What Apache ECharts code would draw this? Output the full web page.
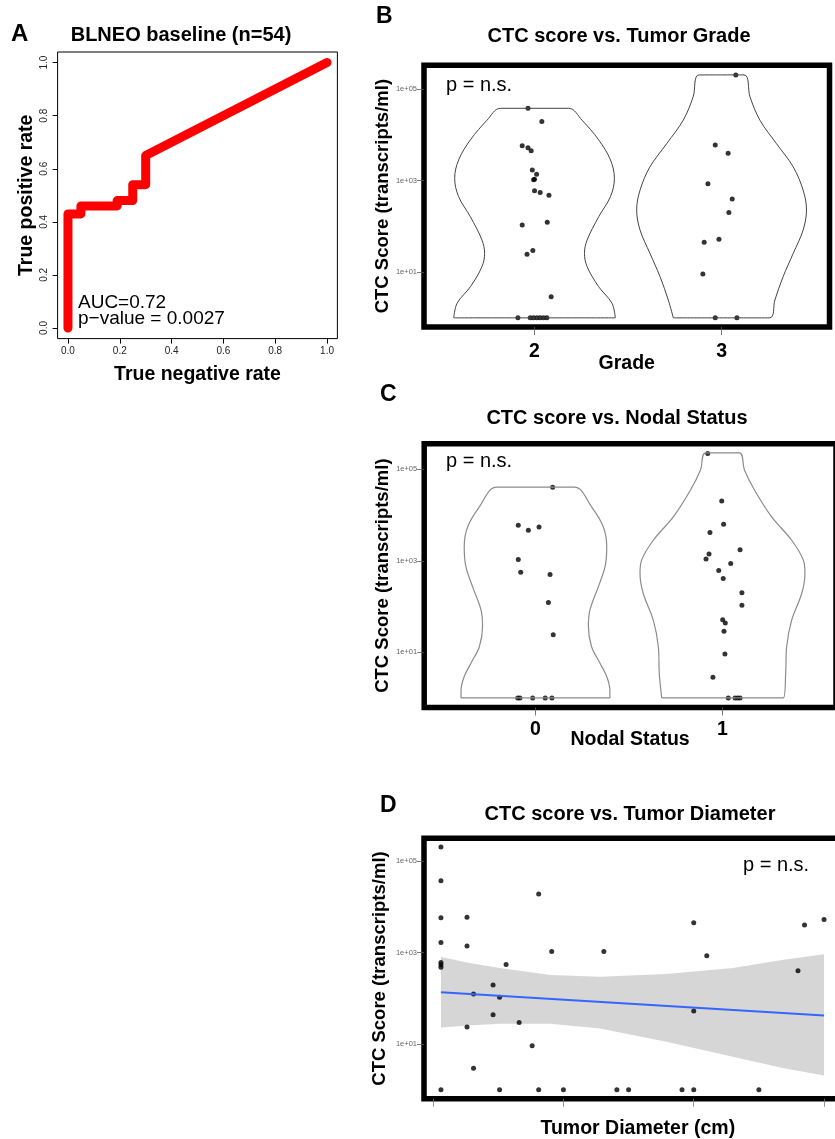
<!DOCTYPE html>
<html>
<head>
<meta charset="utf-8">
<script src="https://cdn.jsdelivr.net/npm/echarts@6/dist/echarts.min.js"></script>
<style>
  html, body { margin: 0; padding: 0; background: #fff; }
  #chart { width: 835px; height: 1139px; }
</style>
</head>
<body>
<div id="chart"></div>
<script>
// ---- panel A: ROC curve ----
const rocFpr = [0, 0, 0.05, 0.05, 0.19, 0.19, 0.25, 0.25, 0.30, 0.30, 1.0];
const rocTpr = [0, 0.43, 0.43, 0.46, 0.46, 0.48, 0.48, 0.54, 0.54, 0.65, 1.0];
const rocTicks = [0, 0.2, 0.4, 0.6, 0.8, 1.0];

// CTC scores are read as log10 exponents (zero scores sit at 1e+00)
const logTicks = [1, 3, 5];

// ---- panel B: grade ----
const gradeLabels = ['2', '3'];
const grade2Log = [4.58, 4.29, 3.76, 3.72, 3.65, 3.23, 3.14, 3.03, 3.02, 2.78, 2.74, 2.68, 2.03, 2.09, 1.47, 1.39, 0.46, 0, 0, 0, 0, 0, 0, 0];
const grade2Jit = [-0.035, 0.039, -0.066, -0.035, -0.018, -0.012, 0.011, 0, -0.005, 0, 0.03, 0.077, -0.066, 0.068, -0.009, -0.04, 0.089, -0.089, -0.023, -0.005, 0.013, 0.03, 0.048, 0.066];
const grade3Log = [5.31, 3.78, 3.60, 2.93, 2.60, 2.30, 1.72, 1.65, 0.96, 0, 0];
const grade3Jit = [0.076, -0.034, 0.035, -0.073, 0.057, 0.039, -0.014, -0.093, -0.10, -0.034, 0.082];
// violin outlines: log level and half width (category units)
const grade2VioY = [0, 0.32, 0.68, 1.12, 1.41, 1.70, 2.21, 2.65, 3.05, 3.45, 3.89, 4.32, 4.58];
const grade2VioW = [0.432, 0.414, 0.343, 0.281, 0.267, 0.281, 0.343, 0.406, 0.427, 0.406, 0.343, 0.254, 0.183];
const grade3VioY = [0, 0.39, 0.90, 1.41, 1.92, 2.36, 2.79, 3.30, 3.81, 4.32, 4.83, 5.31];
const grade3VioW = [0.258, 0.285, 0.329, 0.383, 0.436, 0.454, 0.436, 0.383, 0.293, 0.205, 0.152, 0.120];

// ---- panel C: nodal status ----
const nodalLabels = ['0', '1'];
const node0Log = [4.61, 3.78, 3.67, 3.74, 3.03, 2.75, 2.70, 2.09, 1.38, 0, 0, 0, 0, 0];
const node0Jit = [0.092, -0.092, -0.038, 0.019, -0.092, -0.079, 0.078, 0.069, 0.095, -0.095, -0.083, -0.015, 0.052, 0.088];
const node1Log = [5.35, 4.31, 3.80, 3.62, 3.24, 3.15, 3.04, 2.94, 2.79, 2.61, 2.30, 2.03, 1.71, 1.64, 1.46, 0.96, 0.45, 0, 0, 0, 0];
const node1Jit = [-0.079, -0.004, 0.006, -0.067, 0.094, -0.072, -0.088, 0.044, -0.02, 0.004, 0.104, 0.104, 0.001, 0.015, 0.008, 0.013, -0.051, 0.031, 0.067, 0.081, 0.094];
const node0VioY = [0, 0.17, 0.47, 0.76, 1.12, 1.56, 1.92, 2.43, 2.87, 3.31, 3.74, 4.18, 4.61];
const node0VioW = [0.398, 0.398, 0.381, 0.345, 0.30, 0.283, 0.291, 0.336, 0.372, 0.381, 0.363, 0.30, 0.208];
const node1VioY = [0, 0.54, 1.12, 1.70, 2.29, 2.73, 3.02, 3.45, 3.96, 4.55, 4.98, 5.36];
const node1VioW = [0.325, 0.338, 0.343, 0.37, 0.424, 0.441, 0.432, 0.37, 0.263, 0.171, 0.118, 0.09];

// ---- panel D: tumor diameter ----
const diamX = [1.06, 1.06, 1.06, 1.06, 1.06, 1.06, 1.06, 1.06, 1.26, 1.26, 1.26, 1.31, 1.31, 1.46, 1.46, 1.51, 1.51, 1.56, 1.66, 1.76, 1.81, 1.81, 1.91, 2.0, 2.31, 2.41, 2.50, 2.91, 3.0, 3.0, 3.0, 3.10, 3.50, 3.80, 3.85, 4.0];
const diamLog = [5.31, 4.57, 3.76, 3.22, 2.78, 2.73, 2.68, 0, 3.77, 3.14, 1.37, 2.09, 0.47, 2.29, 1.64, 2.02, 0, 2.74, 1.47, 0.96, 4.28, 0, 3.02, 0, 3.02, 0, 0, 0, 3.65, 1.72, 0, 2.93, 0, 2.60, 3.60, 3.72];
const diamTicks = [1, 2, 3, 4];
const bandX = [1.06, 1.30, 1.51, 1.90, 2.28, 2.79, 3.30, 3.69, 4.0];
const bandUpper = [2.90, 2.76, 2.66, 2.51, 2.47, 2.53, 2.66, 2.84, 2.96];
const bandLower = [1.36, 1.41, 1.44, 1.44, 1.34, 1.05, 0.72, 0.47, 0.31];
const fitX = [1.06, 4.0];
const fitY = [2.13, 1.62];

const FONT = '"Liberation Sans", Arial, Helvetica, sans-serif';

function violinPath(center, levels, widths) {
  const left = levels.map((y, i) => [center - widths[i], y]);
  const right = levels.map((y, i) => [center + widths[i], y]).reverse();
  return left.concat(right, [left[0]]);
}

function jittered(center, logs, jit) {
  return logs.map((y, i) => [center + jit[i], y]);
}

const nameStyle = { fontSize: 19.5, fontWeight: 'bold', color: '#000', fontFamily: FONT };

function logAxis(gridIndex, min, max, gap) {
  return {
    gridIndex, type: 'value', min, max,
    axisLine: { show: false, onZero: false },
    splitLine: { show: false },
    axisTick: { customValues: logTicks, length: 7, lineStyle: { color: '#555', width: 0.8 } },
    axisLabel: { customValues: logTicks, formatter: v => '1e+0' + v, fontSize: 7.5, color: '#666', margin: 7, fontFamily: FONT },
    name: 'CTC Score (transcripts/ml)', nameLocation: 'middle', nameGap: gap, nameMoveOverlap: false,
    nameTextStyle: Object.assign({}, nameStyle, { fontSize: 18.5 })
  };
}

function catAxis(gridIndex, min, max, labels, name, margin, gap) {
  return {
    gridIndex, type: 'value', min, max,
    axisLine: { show: false, onZero: false },
    splitLine: { show: false },
    axisTick: { customValues: [1, 2], length: 8, lineStyle: { color: '#555', width: 0.8 } },
    axisLabel: { customValues: [1, 2], formatter: v => labels[Math.round(v) - 1], fontSize: 19.5, fontWeight: 'bold', color: '#000', margin, fontFamily: FONT },
    name, nameLocation: 'middle', nameGap: gap, nameMoveOverlap: false,
    nameTextStyle: nameStyle
  };
}

const panelGrid = { show: true, borderColor: '#000', borderWidth: 5.5, outerBoundsMode: 'none', containLabel: false };

function txt(text, x, y, size, weight, align) {
  return {
    type: 'text', x, y, silent: true,
    style: { text, fontSize: size, fontWeight: weight, fontFamily: FONT, fill: '#000', align: align || 'left', verticalAlign: 'middle' }
  };
}

const chart = echarts.init(document.getElementById('chart'));
chart.setOption({
  animation: false,
  backgroundColor: '#fff',
  grid: [
    { left: 57.6, top: 52, width: 279.8, height: 286.6, show: true, borderColor: '#000', borderWidth: 1, outerBoundsMode: 'none', containLabel: false },
    Object.assign({ left: 424, top: 65.3, width: 405.5, height: 261.7 }, panelGrid),
    Object.assign({ left: 424.2, top: 443.8, width: 411.8, height: 263.7 }, panelGrid),
    Object.assign({ left: 424, top: 838.2, width: 419.6, height: 260.6 }, panelGrid)
  ],
  xAxis: [
    {
      gridIndex: 0, type: 'value', min: -0.04, max: 1.04,
      axisLine: { show: false, onZero: false }, splitLine: { show: false },
      axisTick: { customValues: rocTicks, length: 5, lineStyle: { color: '#000' } },
      axisLabel: { customValues: rocTicks, formatter: v => v.toFixed(1), fontSize: 10, color: '#222', margin: 7.5, fontFamily: FONT },
      name: 'True negative rate', nameLocation: 'middle', nameGap: 26, nameMoveOverlap: false,
      nameTextStyle: nameStyle
    },
    catAxis(1, 0.409, 2.577, gradeLabels, 'Grade', 14.5, 26.5),
    catAxis(2, 0.405, 2.607, nodalLabels, 'Nodal Status', 12.5, 22.5),
    {
      gridIndex: 3, type: 'value', min: 0.93, max: 4.15,
      axisLine: { show: false, onZero: false }, splitLine: { show: false },
      axisTick: { customValues: diamTicks, length: 8, lineStyle: { color: '#777', width: 0.8 } },
      axisLabel: { show: false },
      name: 'Tumor Diameter (cm)', nameLocation: 'middle', nameGap: 20, nameMoveOverlap: false,
      nameTextStyle: Object.assign({}, nameStyle, { padding: [0, 0, 0, 8] })
    }
  ],
  yAxis: [
    {
      gridIndex: 0, type: 'value', min: -0.04, max: 1.04,
      axisLine: { show: false, onZero: false }, splitLine: { show: false },
      axisTick: { customValues: rocTicks, length: 5, lineStyle: { color: '#000' } },
      axisLabel: { customValues: rocTicks, formatter: v => v.toFixed(1), rotate: 90, fontSize: 10, color: '#222', margin: 8, fontFamily: FONT },
      name: 'True positive rate', nameLocation: 'middle', nameGap: 21, nameMoveOverlap: false,
      nameTextStyle: nameStyle
    },
    logAxis(1, -0.2, 5.52, 32),
    logAxis(2, -0.21, 5.56, 32),
    logAxis(3, -0.2, 5.5, 35)
  ],
  series: [
    {
      type: 'line', xAxisIndex: 0, yAxisIndex: 0, symbol: 'none',
      data: rocFpr.map((x, i) => [x, rocTpr[i]]),
      lineStyle: { color: '#ff0000', width: 9, cap: 'round', join: 'round' }
    },
    // B
    { type: 'line', xAxisIndex: 1, yAxisIndex: 1, symbol: 'none', smooth: 0.35, data: violinPath(1, grade2VioY, grade2VioW), lineStyle: { color: '#444', width: 1 } },
    { type: 'line', xAxisIndex: 1, yAxisIndex: 1, symbol: 'none', smooth: 0.35, data: violinPath(2, grade3VioY, grade3VioW), lineStyle: { color: '#444', width: 1 } },
    { type: 'scatter', xAxisIndex: 1, yAxisIndex: 1, symbolSize: 5, itemStyle: { color: '#000' }, data: jittered(1, grade2Log, grade2Jit) },
    { type: 'scatter', xAxisIndex: 1, yAxisIndex: 1, symbolSize: 5, itemStyle: { color: '#000' }, data: jittered(2, grade3Log, grade3Jit) },
    // C
    { type: 'line', xAxisIndex: 2, yAxisIndex: 2, symbol: 'none', smooth: 0.35, data: violinPath(1, node0VioY, node0VioW), lineStyle: { color: '#8c8c8c', width: 1.2 } },
    { type: 'line', xAxisIndex: 2, yAxisIndex: 2, symbol: 'none', smooth: 0.35, data: violinPath(2, node1VioY, node1VioW), lineStyle: { color: '#8c8c8c', width: 1.2 } },
    { type: 'scatter', xAxisIndex: 2, yAxisIndex: 2, symbolSize: 5, itemStyle: { color: '#000' }, data: jittered(1, node0Log, node0Jit) },
    { type: 'scatter', xAxisIndex: 2, yAxisIndex: 2, symbolSize: 5, itemStyle: { color: '#000' }, data: jittered(2, node1Log, node1Jit) },
    // D
    { type: 'scatter', xAxisIndex: 3, yAxisIndex: 3, symbolSize: 5, itemStyle: { color: '#000' }, data: diamX.map((x, i) => [x, diamLog[i]]) },
    {
      // confidence band of the linear fit
      type: 'custom', xAxisIndex: 3, yAxisIndex: 3, data: [0], silent: true,
      renderItem: (params, api) => {
        const top = bandX.map((x, i) => api.coord([x, bandUpper[i]]));
        const bottom = bandX.map((x, i) => api.coord([x, bandLower[i]])).reverse();
        return { type: 'polygon', shape: { points: top.concat(bottom) }, style: { fill: 'rgba(153,153,153,0.4)' } };
      }
    },
    {
      type: 'line', xAxisIndex: 3, yAxisIndex: 3, symbol: 'none',
      lineStyle: { color: '#3366ff', width: 2 }, data: fitX.map((x, i) => [x, fitY[i]])
    }
  ],
  graphic: { elements: [
    txt('A', 11, 34.5, 24, 'bold'),
    txt('BLNEO baseline (n=54)', 181, 35.5, 20, 'bold', 'center'),
    txt('AUC=0.72', 78, 302.5, 19, 'normal'),
    txt('p\u2212value = 0.0027', 78, 318.5, 19, 'normal'),
    txt('B', 376, 17, 23, 'bold'),
    txt('CTC score vs. Tumor Grade', 619, 36, 20, 'bold', 'center'),
    txt('p = n.s.', 446, 85.5, 20, 'normal'),
    txt('C', 380, 394.5, 23, 'bold'),
    txt('CTC score vs. Nodal Status', 617, 418.5, 20, 'bold', 'center'),
    txt('p = n.s.', 446, 461, 20, 'normal'),
    txt('D', 380, 805.5, 23, 'bold'),
    txt('CTC score vs. Tumor Diameter', 630, 814, 20, 'bold', 'center'),
    txt('p = n.s.', 743, 865.5, 20, 'normal')
  ] }
});
</script>
</body>
</html>
